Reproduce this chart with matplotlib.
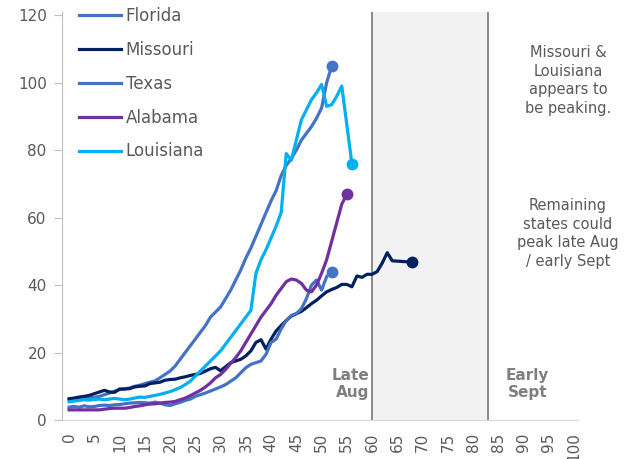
import matplotlib
matplotlib.use("Agg")
import matplotlib.pyplot as plt

# days since start of outbreak (daily values)
florida = [6, 6, 6.2, 6.3, 6.5, 6.7, 7, 7.5, 8, 8.5,
           9, 9.2, 9.5, 10, 10.3, 10.8, 11.2, 11.6, 12.5, 13.5,
           14.5, 16, 18, 20, 22, 24, 26, 28, 30.5, 32,
           33.5, 36, 38.5, 41.5, 44.5, 48, 51, 54.5, 58, 61.5,
           65, 68, 72.5, 75.5, 77.5, 80, 83, 85, 87, 89.5,
           92.5, 100, 105]
missouri = [6.3, 6.5, 6.8, 7, 7.3, 7.8, 8.3, 8.8, 8.3, 8.2,
            9.2, 9.2, 9.3, 9.8, 10, 10.1, 10.8, 11, 11.2, 11.8,
            12, 12.1, 12.5, 12.8, 13.2, 13.5, 13.8, 14.5, 15.2, 15.6,
            14.6, 15.8, 17, 17.5, 18, 19, 20.5, 23, 23.8, 21,
            24, 26.4, 28, 29.5, 30.8, 31.5, 32.2, 33.3, 34.5, 35.5,
            36.8, 38, 38.7, 39.3, 40.2, 40.2, 39.5, 42.7, 42.3, 43.2,
            43.2, 44, 46.5, 49.6, 47.2, 47.1, 47, 46.9, 46.9]
texas = [3.8, 4, 3.8, 4.2, 3.9, 4, 4.3, 4.4, 4.3, 4.5,
         4.6, 4.8, 5, 5.1, 5.2, 5.1, 5, 5.3, 5, 4.5,
         4.3, 4.8, 5.2, 5.8, 6.2, 7, 7.5, 8, 8.6, 9.2,
         9.8, 10.5, 11.5, 12.5, 14, 15.5, 16.5, 17, 17.5, 19.5,
         23, 24, 27, 29.5, 31, 31.5, 33, 36, 40, 41.5,
         38.5, 42.5, 44]
alabama = [3, 3, 3, 3, 3, 3, 3, 3.2, 3.4, 3.5,
           3.5, 3.5, 3.7, 4, 4.2, 4.5, 4.7, 4.8, 5, 5.2,
           5.3, 5.5, 6, 6.5, 7.2, 8, 8.8, 9.8, 11, 12.5,
           13.5, 15, 16.8, 18.5, 20.5, 23, 25.5, 28, 30.5, 32.5,
           34.5, 37, 39, 41, 41.8, 41.5, 40.5, 38.5, 38, 40,
           43.5, 47.5, 53, 58.5, 64, 67]
louisiana = [5.4, 5.6, 5.8, 6, 5.9, 6.1, 6.2, 6, 6.2, 6.4,
             6.2, 6, 6.2, 6.5, 6.8, 6.7, 7, 7.3, 7.6, 8,
             8.4, 9, 9.6, 10.5, 11.5, 13, 14.5, 16, 17.5, 19,
             20.5, 22.5, 24.5, 26.5, 28.5, 30.5, 32.5, 43.5, 47.5, 50.5,
             54, 57.5, 61.5, 79, 77, 83, 89, 92, 95, 97,
             99.5, 93, 93.5, 96, 99, 87.5, 76]

series = [("Florida", florida, "#4472C4"),
          ("Missouri", missouri, "#002060"),
          ("Texas", texas, "#4472C4"),
          ("Alabama", alabama, "#7030A0"),
          ("Louisiana", louisiana, "#00B0F0")]

xticks = list(range(0, 101, 5))
late_aug = 60
early_sept = 83

plt.rcParams['font.family'] = ['DejaVu Sans']
txt = "#595959"

fig = plt.figure(figsize=(6.36, 4.59), dpi=100)
ax = fig.add_axes([0.0975, 0.085, 0.8115, 0.889])

ax.axvspan(late_aug, early_sept, color="#f2f2f2", zorder=0)
ax.axvline(late_aug, color="#808080", lw=1.3, zorder=1)
ax.axvline(early_sept, color="#808080", lw=1.3, zorder=1)

for name, vals, col in series:
    days = list(range(len(vals)))
    ax.plot(days, vals, color=col, lw=2.3, label=name, zorder=3,
            solid_joinstyle="round")
    ax.plot(days[-1], vals[-1], "o", color=col, ms=7.5, zorder=4)

ax.set_xlim(-1.4, 100.8)
ax.set_ylim(0, 121)
ax.set_xticks(xticks)
ax.set_xticklabels([str(v) for v in xticks], rotation=90, fontsize=11,
                   color=txt)
ax.set_yticks(range(0, 121, 20))
ax.tick_params(axis="y", labelsize=11, labelcolor=txt, color="#bfbfbf",
               length=6, pad=5)
ax.tick_params(axis="x", length=0, pad=9)

for s in ["top", "right"]:
    ax.spines[s].set_visible(False)
ax.spines["left"].set_color("#bfbfbf")
ax.spines["bottom"].set_color("#d9d9d9")

leg = ax.legend(loc="upper left", bbox_to_anchor=(0.033, 1.012), frameon=False,
                fontsize=12, handlelength=2.5, handletextpad=0.3,
                labelspacing=0.95, borderpad=0, borderaxespad=0)
for t in leg.get_texts():
    t.set_color(txt)

ax.text(59.4, 10.7, "Late\nAug", ha="right", va="center", fontsize=11,
        fontweight="bold", color="#7f7f7f", linespacing=1.15)
ax.text(90.8, 10.7, "Early\nSept", ha="center", va="center", fontsize=11,
        fontweight="bold", color="#7f7f7f", linespacing=1.15)

ax.text(98.8, 100.7, "Missouri &\nLouisiana\nappears to\nbe peaking.",
        ha="center", va="center", fontsize=10.5, color=txt,
        linespacing=1.3, clip_on=False)
ax.text(98.8, 55.3, "Remaining\nstates could\npeak late Aug\n/ early Sept",
        ha="center", va="center", fontsize=10.5, color=txt,
        linespacing=1.3, clip_on=False)

fig.savefig("out.png", dpi=100)
